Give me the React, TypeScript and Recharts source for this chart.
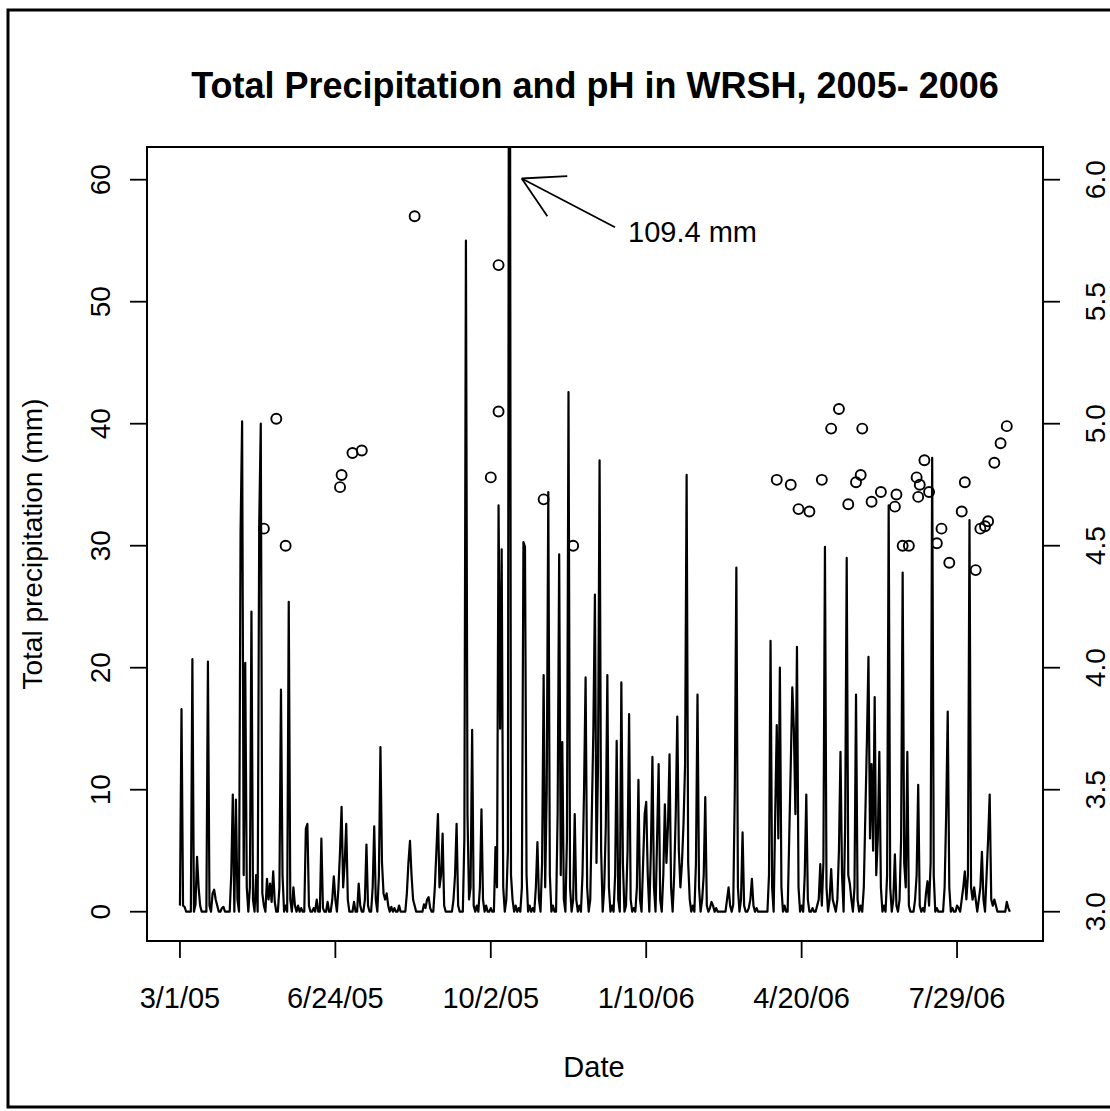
import React from 'react';
import {
  ComposedChart, Line, Scatter,
  XAxis, YAxis,
  ReferenceArea, ReferenceLine,
} from 'recharts';

const FONT = '"Liberation Sans", Arial, Helvetica, sans-serif';

// day index (0 = 3/1/05) of the labelled ticks
const dateTicks = [0, 100, 200, 300, 400, 500];
const dateLabels = ['3/1/05', '6/24/05', '10/2/05', '1/10/06', '4/20/06', '7/29/06'];
const precipTicks = [0, 10, 20, 30, 40, 50, 60];
const phTicks = [3.0, 3.5, 4.0, 4.5, 5.0, 5.5, 6.0];
const LAST_DAY = 534;

// R style extended ranges (4% each side)
const X_DOMAIN: [number, number] = [-21.2, 555.3];
const MM_DOMAIN: [number, number] = [-2.4, 62.68];
const PH_DOMAIN: [number, number] = [2.88, 6.134];

// [day, mm] for days with rain; all other days are 0 mm
const rainfall: [number, number][] = [
  [0, 0.5], [1, 16.6], [2, 0.5], [3, 0.4], [8, 20.7], [10, 0.6], [11, 4.5], [12, 2.0], [13, 0.5],
  [18, 20.5], [19, 0.5], [21, 1.5], [22, 1.8], [23, 1.0], [24, 0.5], [27, 0.3], [28, 0.4],
  [33, 3], [34, 9.6], [36, 9.2], [37, 1], [39, 31.1], [40, 40.2], [41, 3], [42, 20.4], [43, 2],
  [45, 2], [46, 24.6], [47, 1], [49, 3], [51, 31.8], [52, 40.0], [53, 1.5], [54, 0.5],
  [56, 2.7], [57, 1], [58, 2.3], [59, 0.8], [60, 3.3], [61, 0.8], [64, 2], [65, 18.2], [66, 3],
  [68, 0.5], [70, 25.4], [71, 1], [73, 2], [74, 0.5], [76, 0.5], [78, 0.3], [81, 6.8], [82, 7.2],
  [83, 0.5], [86, 0.3], [88, 1.0], [91, 6.0], [92, 0.3], [95, 0.8], [98, 1], [99, 2.9], [100, 1],
  [102, 2], [103, 5], [104, 8.6], [105, 2], [106, 4], [107, 7.2], [108, 1], [112, 0.8],
  [115, 2.3], [116, 0.5], [119, 1], [120, 5.5], [121, 0.5], [124, 2], [125, 7.0], [126, 1],
  [128, 3], [129, 13.5], [130, 4], [131, 1.5], [132, 1], [133, 1.5], [134, 0.5], [136, 0.4],
  [138, 0.3], [141, 0.5], [146, 1.5], [147, 4], [148, 5.8], [149, 3], [150, 1], [151, 0.5],
  [157, 0.6], [158, 0.3], [159, 1], [160, 1.2], [161, 0.3], [164, 2], [165, 5], [166, 8.0],
  [167, 2], [168, 3], [169, 6.4], [170, 0.5], [176, 1], [177, 3], [178, 7.2], [179, 0.5],
  [183, 6], [184, 55], [185, 8], [186, 1], [187, 2], [188, 14.9], [189, 0.5], [191, 0.5],
  [193, 2], [194, 8.4], [195, 1], [197, 0.5], [200, 0.3], [203, 5.3], [204, 2], [205, 33.3],
  [206, 15], [207, 29.7], [208, 2], [210, 1], [211, 5], [212, 109.4], [213, 3], [214, 1],
  [216, 0.5], [218, 0.3], [220, 2], [221, 30.3], [222, 29.9], [223, 3], [225, 0.5], [227, 0.3],
  [229, 2], [230, 5.7], [231, 1], [233, 4], [234, 19.4], [235, 2], [236, 10], [237, 34.4],
  [238, 3], [240, 0.5], [243, 8], [244, 29.3], [245, 3], [246, 13.9], [247, 1], [249, 6],
  [250, 42.6], [251, 2], [253, 1], [254, 8], [255, 1], [257, 0.5], [259, 3], [260, 10],
  [261, 19.2], [262, 2], [264, 1], [265, 8], [266, 15], [267, 26], [268, 4], [269, 12],
  [270, 37], [271, 5], [273, 2], [274, 7], [275, 19.4], [276, 2], [278, 0.5], [280, 3],
  [281, 14], [282, 1], [284, 18.8], [285, 4], [287, 0.5], [288, 5], [289, 16.2], [290, 1],
  [292, 0.3], [294, 2], [295, 10.8], [296, 1], [298, 4], [299, 8], [300, 9.0], [301, 3],
  [303, 5], [304, 12.7], [305, 2], [307, 6], [308, 12.1], [309, 1], [311, 3], [312, 8.8],
  [313, 4], [314, 7], [315, 12.9], [316, 2], [318, 3], [319, 8], [320, 16], [321, 5], [322, 2],
  [323, 4], [324, 7.2], [325, 12], [326, 35.8], [327, 4], [328, 1], [330, 0.5], [332, 4],
  [333, 17.8], [334, 2], [336, 1], [337, 3], [338, 9.4], [339, 0.5], [341, 0.3], [342, 0.8],
  [343, 0.5], [345, 0.3], [352, 1], [353, 2], [354, 0.5], [356, 0.6], [357, 10], [358, 28.2],
  [359, 2], [361, 1], [362, 6.5], [363, 0.5], [366, 0.3], [367, 1], [368, 2.7], [369, 0.5],
  [371, 0.3], [379, 3], [380, 22.2], [381, 2], [383, 8], [384, 15.3], [385, 6], [386, 20],
  [387, 2], [389, 0.5], [392, 6], [393, 12], [394, 18.4], [395, 15], [396, 8], [397, 21.7],
  [398, 2], [400, 0.5], [402, 3], [403, 9.6], [404, 1], [407, 0.3], [410, 0.5], [411, 1],
  [412, 3.9], [413, 0.5], [414, 4], [415, 29.9], [416, 2], [418, 1], [419, 3.5], [420, 1],
  [421, 0.5], [423, 1], [424, 5], [425, 13.1], [426, 3], [428, 7], [429, 29], [430, 3],
  [431, 2.3], [432, 1], [434, 2], [435, 17.8], [436, 1], [438, 0.5], [440, 2], [441, 8],
  [442, 14], [443, 20.9], [444, 6], [445, 12.1], [446, 5], [447, 17.6], [448, 3], [449, 6],
  [450, 13.1], [451, 2], [453, 0.5], [455, 3], [456, 33.3], [457, 2], [459, 1], [460, 4.7],
  [461, 0.5], [463, 1], [464, 6], [465, 27.8], [466, 4], [467, 2], [468, 13.1], [469, 0.5],
  [473, 1], [474, 3], [475, 10.4], [476, 0.5], [478, 0.3], [480, 1.5], [481, 2.5], [482, 0.5],
  [483, 4], [484, 37.2], [485, 3], [487, 0.3], [492, 2], [493, 8], [494, 16.4], [495, 2],
  [497, 0.3], [500, 0.5], [501, 0.3], [503, 1], [504, 2], [505, 3.3], [506, 1], [507, 3],
  [508, 32.1], [509, 2], [510, 1], [511, 2], [512, 1], [514, 1], [515, 2], [516, 4.9],
  [517, 1], [519, 3], [520, 6], [521, 9.6], [522, 1], [523, 0.5], [524, 1], [525, 0.5],
  [532, 0.8], [533, 0.3],
];

// [day, pH] rain samples
const phSamples: [number, number][] = [
  [54, 4.57], [62, 5.02], [68, 4.50],
  [103, 4.74], [104, 4.79], [111, 4.88], [117, 4.89], [151, 5.85],
  [200, 4.78], [205, 5.65], [205, 5.05], [234, 4.69], [253, 4.50],
  [384, 4.77], [393, 4.75], [398, 4.65], [405, 4.64], [413, 4.77], [419, 4.98], [424, 5.06],
  [430, 4.67], [435, 4.76], [438, 4.79], [439, 4.98], [445, 4.68], [451, 4.72], [460, 4.66],
  [461, 4.71], [465, 4.50], [469, 4.50], [474, 4.78], [475, 4.70], [476, 4.75], [479, 4.85],
  [482, 4.72], [487, 4.51], [490, 4.57], [495, 4.43], [503, 4.64], [505, 4.76], [512, 4.40],
  [515, 4.57], [518, 4.58], [520, 4.60], [524, 4.84], [528, 4.92], [532, 4.99],
];

const precipData = Array.from({ length: LAST_DAY + 1 }, (_, day) => ({ day, precip: 0 }));
rainfall.forEach(([d, mm]) => { precipData[d].precip = mm; });
const phData = phSamples.map(([day, ph]) => ({ day, ph }));

const tickLineStyle = { stroke: '#000', strokeWidth: 1.8 };

function DateTick(props: any) {
  const { x, y, payload } = props;
  const label = dateLabels[dateTicks.indexOf(payload.value)];
  return (
    <text x={x} y={y + 21} textAnchor="middle" fontSize={29} fontFamily={FONT} fill="#000">
      {label}
    </text>
  );
}

// R draws the y tick labels parallel to the axis
function SideTick(props: any, fixed: boolean) {
  const { x, y, payload } = props;
  const label = fixed ? Number(payload.value).toFixed(1) : String(payload.value);
  return (
    <text
      x={x} y={y}
      transform={`rotate(-90 ${x} ${y})`}
      textAnchor="middle" fontSize={28} fontFamily={FONT} fill="#000"
    >
      {label}
    </text>
  );
}

const OpenCircle = (props: any) => {
  const { cx, cy } = props;
  if (cx == null || cy == null) return null;
  return <circle cx={cx} cy={cy} r={5} fill="none" stroke="#000" strokeWidth={1.9} />;
};

export default function App() {
  const arrow = { stroke: '#000', strokeWidth: 1.8, ifOverflow: 'visible' as const, yAxisId: 'mm' };
  return (
    <div style={{ position: 'absolute', left: 0, top: 0, width: 1110, height: 1111, background: '#fff', overflow: 'hidden' }}>
      <ComposedChart width={1110} height={1111} data={precipData} margin={{ top: 147, right: 0, bottom: 0, left: 0 }}>
        <XAxis
          type="number" dataKey="day" domain={X_DOMAIN} allowDataOverflow
          ticks={dateTicks} interval={0} height={170}
          axisLine={false} tickLine={tickLineStyle} tickSize={17} tickMargin={29}
          tick={DateTick}
        />
        <YAxis
          yAxisId="mm" orientation="left" type="number" domain={MM_DOMAIN} allowDataOverflow
          ticks={precipTicks} interval={0} width={147}
          axisLine={false} tickLine={tickLineStyle} tickSize={17} tickMargin={20}
          tick={(p: any) => SideTick(p, false)}
        />
        <YAxis
          yAxisId="ph" orientation="right" type="number" domain={PH_DOMAIN} allowDataOverflow
          ticks={phTicks} interval={0} width={67}
          axisLine={false} tickLine={tickLineStyle} tickSize={17} tickMargin={45}
          tick={(p: any) => SideTick(p, true)}
        />
        <ReferenceArea
          yAxisId="mm" x1={X_DOMAIN[0]} x2={X_DOMAIN[1]} y1={MM_DOMAIN[0]} y2={MM_DOMAIN[1]}
          fill="none" fillOpacity={0} stroke="#000" strokeWidth={2} ifOverflow="visible"
        />
        <Line
          yAxisId="mm" type="linear" dataKey="precip" stroke="#000" strokeWidth={2.2}
          strokeLinejoin="round" dot={false} activeDot={false} isAnimationActive={false}
        />
        <Scatter
          yAxisId="ph" data={phData} dataKey="ph" shape={OpenCircle} isAnimationActive={false}
        />
        <ReferenceLine {...arrow} segment={[{ x: 219.9, y: 60.1 }, { x: 279.9, y: 56.1 }]} />
        <ReferenceLine {...arrow} segment={[{ x: 219.9, y: 60.1 }, { x: 249.2, y: 60.3 }]} />
        <ReferenceLine {...arrow} segment={[{ x: 219.9, y: 60.1 }, { x: 236.4, y: 57.0 }]} />
      </ComposedChart>
      <svg width={1110} height={1111} style={{ position: 'absolute', left: 0, top: 0, pointerEvents: 'none' }}>
        <rect x={8} y={10} width={1200} height={1097} fill="none" stroke="#000" strokeWidth={3} />
        <text x={595} y={98} textAnchor="middle" fontSize={36} fontWeight="bold" fontFamily={FONT} fill="#000">
          Total Precipitation and pH in WRSH, 2005- 2006
        </text>
        <text x={42} y={544} transform="rotate(-90 42 544)" textAnchor="middle" fontSize={28} fontFamily={FONT} fill="#000">
          Total precipitation (mm)
        </text>
        <text x={594} y={1077} textAnchor="middle" fontSize={29} fontFamily={FONT} fill="#000">
          Date
        </text>
        <text x={628} y={242} fontSize={29} fontFamily={FONT} fill="#000">
          109.4 mm
        </text>
      </svg>
    </div>
  );
}
